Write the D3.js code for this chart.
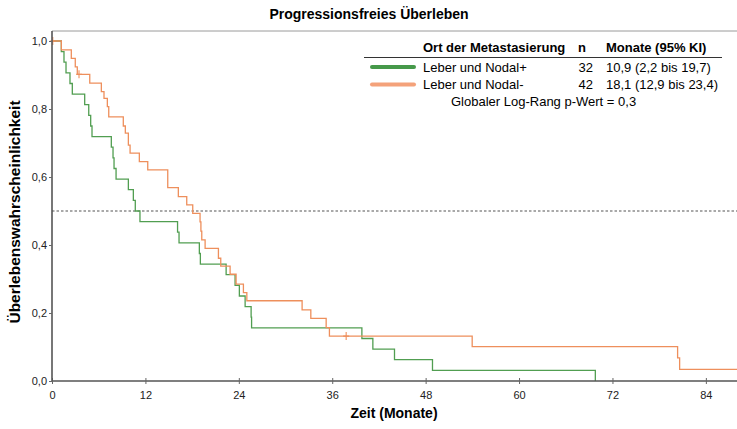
<!DOCTYPE html>
<html>
<head>
<meta charset="utf-8">
<script src="https://cdn.jsdelivr.net/npm/d3@7.9.0/dist/d3.min.js"></script>
<style>
  html, body { margin: 0; padding: 0; background: #fff; }
  svg { display: block; font-family: "Liberation Sans", Arial, sans-serif; }
</style>
</head>
<body>
<div id="chart"></div>
<script>
// Kaplan-Meier steps (time in months, survival after the drop)
const greenTimes = [1.2, 1.54, 1.8, 2.31, 2.61, 4.2, 4.72, 4.97, 5.14, 7.62, 7.84, 7.97, 8.23, 9.81, 10.45, 10.7, 11.3,
  16.13, 16.32, 18.93, 19.06, 22.37, 23.52, 24.07, 24.81, 25.58, 25.64, 39.81, 41.22, 44.0, 48.88, 69.8];
const greenSurv = [0.969, 0.938, 0.906, 0.875, 0.844, 0.813, 0.781, 0.75, 0.719, 0.688, 0.656, 0.625, 0.594, 0.563, 0.531, 0.5, 0.469,
  0.438, 0.406, 0.375, 0.344, 0.313, 0.281, 0.25, 0.219, 0.188, 0.156, 0.125, 0.094, 0.063, 0.031, 0];

const orangeTimes = [1.2, 2.48, 2.99, 3.25, 4.85, 6.34, 6.68, 7.11, 7.29, 9.16, 9.42, 9.81, 10.03, 11.22, 12.3,
  14.87, 16.23, 17.31, 18.08, 19.02, 19.13, 19.24, 19.67, 21.38, 21.68, 22.88, 23.65, 24.59, 25.03, 32.13,
  33.25, 35.22, 35.64, 53.98, 80.37, 80.63];
const orangeSurv = [0.974, 0.949, 0.924, 0.902, 0.876, 0.851, 0.831, 0.807, 0.777, 0.75, 0.729, 0.694, 0.67, 0.645, 0.621,
  0.569, 0.542, 0.518, 0.493, 0.468, 0.441, 0.415, 0.39, 0.361, 0.338, 0.314, 0.285, 0.26, 0.236, 0.209,
  0.184, 0.157, 0.132, 0.101, 0.068, 0.034];
const orangeCensor = [0.1, 3.47, 37.79];
const orangeLastFollowUp = 88;

const xTicks = [0, 12, 24, 36, 48, 60, 72, 84];
const yTicks = [0, 0.2, 0.4, 0.6, 0.8, 1.0];

const legendRows = [
  { label: "Leber und Nodal+", n: "32", median: "10,9 (2,2 bis 19,7)" },
  { label: "Leber und Nodal-", n: "42", median: "18,1 (12,9 bis 23,4)" }
];

const width = 737;
const height = 429;
const margin = { top: 31, right: 0, bottom: 48, left: 52 };
const greenCol = "#519e51";
const orangeCol = "#ee8f5c";

const x = d3.scaleLinear().domain([0, 88]).range([margin.left, width - margin.right]);
const y = d3.scaleLinear().domain([0, 1]).range([381, 41]);

const svg = d3.select("#chart").append("svg")
  .attr("width", width)
  .attr("height", height);

// frame top + 0.5 reference
svg.append("line")
  .attr("x1", x(0)).attr("x2", width)
  .attr("y1", margin.top).attr("y2", margin.top)
  .attr("stroke", "#9a9a9a").attr("stroke-width", 1);

svg.append("line")
  .attr("x1", x(0)).attr("x2", width)
  .attr("y1", y(0.5)).attr("y2", y(0.5))
  .attr("stroke", "#555").attr("stroke-width", 1.2)
  .attr("stroke-dasharray", "2.5,2");

function stepPoints(times, surv, lastTime) {
  const pts = [[0, 1]];
  times.forEach((t, i) => pts.push([t, surv[i]]));
  if (lastTime != null) pts.push([lastTime, surv[surv.length - 1]]);
  return pts;
}

function survAt(times, surv, t) {
  let s = 1;
  times.forEach((tt, i) => { if (tt <= t) s = surv[i]; });
  return s;
}

const line = d3.line()
  .x(d => x(d[0]))
  .y(d => y(d[1]))
  .curve(d3.curveStepAfter);

svg.append("path")
  .attr("d", line(stepPoints(greenTimes, greenSurv, null)))
  .attr("fill", "none").attr("stroke", greenCol).attr("stroke-width", 1.3);

svg.append("path")
  .attr("d", line(stepPoints(orangeTimes, orangeSurv, orangeLastFollowUp)))
  .attr("fill", "none").attr("stroke", orangeCol).attr("stroke-width", 1.3);

// censor marks
svg.selectAll(".censor")
  .data(orangeCensor)
  .enter()
  .append("path")
  .attr("class", "censor")
  .attr("d", t => {
    const cx = x(t), cy = y(survAt(orangeTimes, orangeSurv, t));
    return `M${cx},${cy - 4}V${cy + 4}M${cx - 3},${cy}H${cx + 3}`;
  })
  .attr("stroke", orangeCol).attr("stroke-width", 1.1);

// axes
const xAxis = svg.append("g")
  .attr("transform", `translate(0,${y(0)})`)
  .call(d3.axisBottom(x).tickValues(xTicks).tickSize(3).tickFormat(d3.format("d")));
xAxis.select(".domain").attr("stroke", "#555").attr("stroke-width", 1.6)
  .attr("d", `M${x(0)},0H${width}`);
xAxis.selectAll(".tick line").attr("y1", -3).attr("y2", 3).attr("stroke", "#666");
xAxis.selectAll(".tick text")
  .attr("y", 10).attr("font-size", 11).attr("fill", "#222")
  .attr("font-family", "'Liberation Sans Narrow', 'Liberation Sans', Arial, sans-serif");

const yAxis = svg.append("g")
  .attr("transform", `translate(${x(0)},0)`)
  .call(d3.axisLeft(y).tickValues(yTicks).tickSize(3).tickFormat(d => d3.format(".1f")(d).replace(".", ",")));
yAxis.select(".domain").attr("stroke", "#555").attr("stroke-width", 1.6)
  .attr("d", `M0,${margin.top}V${y(0)}`);
yAxis.selectAll(".tick line").attr("stroke", "#666");
yAxis.selectAll(".tick text")
  .attr("x", -5).attr("font-size", 11).attr("fill", "#222")
  .attr("font-family", "'Liberation Sans Narrow', 'Liberation Sans', Arial, sans-serif");

// titles
svg.append("text")
  .attr("x", 369).attr("y", 19)
  .attr("text-anchor", "middle")
  .style("font-size", "14px").style("font-weight", "bold")
  .text("Progressionsfreies Überleben");

svg.append("text")
  .attr("x", 394).attr("y", 418)
  .attr("text-anchor", "middle")
  .style("font-size", "14px").style("font-weight", "bold")
  .text("Zeit (Monate)");

svg.append("text")
  .attr("transform", "translate(20,212) rotate(-90)")
  .attr("text-anchor", "middle")
  .style("font-size", "15.5px").style("font-weight", "bold")
  .text("Überlebenswahrscheinlichkeit");

// legend table
const lg = svg.append("g");
lg.append("text").attr("x", 423).attr("y", 52).style("font-size", "13px").style("font-weight", "bold")
  .text("Ort der Metastasierung");
lg.append("text").attr("x", 578).attr("y", 52).style("font-size", "13px").style("font-weight", "bold").text("n");
lg.append("text").attr("x", 606).attr("y", 52).style("font-size", "13px").style("font-weight", "bold")
  .text("Monate (95% KI)");
lg.append("line").attr("x1", 364).attr("x2", 722).attr("y1", 57.5).attr("y2", 57.5)
  .attr("stroke", "#333").attr("stroke-width", 1);

const rows = lg.selectAll(".row")
  .data(legendRows)
  .enter()
  .append("g")
  .attr("class", "row")
  .attr("transform", (d, i) => `translate(0,${67 + i * 17.5})`);

rows.append("line")
  .attr("x1", 372).attr("x2", 414)
  .attr("stroke", (d, i) => i === 0 ? "#46994a" : "#f4a27a")
  .attr("stroke-width", 4).attr("stroke-linecap", "round");
rows.append("text").attr("x", 423).attr("y", 4.5).style("font-size", "13px").text(d => d.label);
rows.append("text").attr("x", 593).attr("y", 4.5).attr("text-anchor", "end").style("font-size", "13px").text(d => d.n);
rows.append("text").attr("x", 606).attr("y", 4.5).style("font-size", "13px").text(d => d.median);

lg.append("text").attr("x", 451).attr("y", 105.5).style("font-size", "13px")
  .text("Globaler Log-Rang p-Wert = 0,3");
</script>
</body>
</html>
